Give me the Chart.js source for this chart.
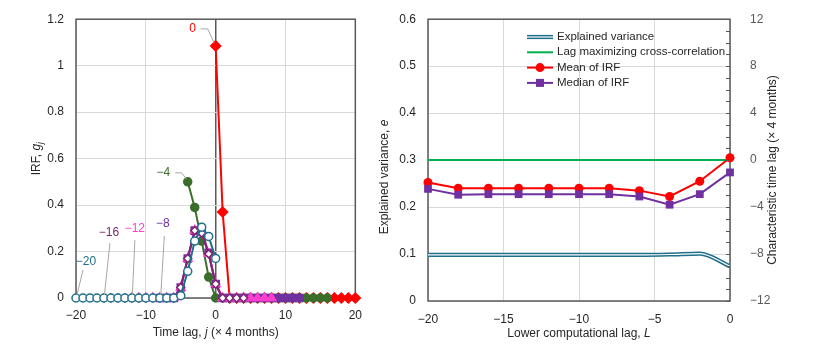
<!DOCTYPE html>
<html>
<head>
<meta charset="utf-8">
<script src="https://cdn.jsdelivr.net/npm/chart.js@4.4.1/dist/chart.umd.min.js"></script>
<style>
html, body { margin: 0; padding: 0; background: #fff; }
#wrap { position: relative; width: 828px; height: 359px; }
#left { position: absolute; left: 0; top: 0; }
#right { position: absolute; left: 372px; top: 0; }
</style>
</head>
<body>
<div id="wrap">
	<canvas id="left" width="372" height="359"></canvas>
	<canvas id="right" width="456" height="359"></canvas>
</div>
<script>
// Left panel: impulse response functions, one per lower computational lag L
const irfLowerLags = [-20, -16, -12, -8, -4, 0];
const irfTags = ["−20", "−16", "−12", "−8", "−4", "0"];
const irfLm20 = [0, 0, 0, 0, 0, 0, 0, 0, 0, 0, 0, 0, 0, 0, 0, 0.01, 0.115, 0.245, 0.305, 0.265, 0.17];
const irfLm16 = [0, 0, 0, 0, 0, 0, 0, 0, 0, 0, 0, 0.045, 0.17, 0.29, 0.28, 0.19, 0.06, 0, 0, 0, 0];
const irfLm12 = [0, 0, 0, 0, 0, 0, 0, 0.045, 0.17, 0.29, 0.28, 0.19, 0.06, 0, 0, 0, 0, 0, 0, 0, 0];
const irfLm8 = [0, 0, 0, 0.045, 0.17, 0.29, 0.285, 0.195, 0.06, 0, 0, 0, 0, 0, 0, 0, 0, 0, 0, 0, 0];
const irfLm4 = [0.5, 0.39, 0.245, 0.09, 0, 0, 0, 0, 0, 0, 0, 0, 0, 0, 0, 0, 0, 0, 0, 0, 0];
const irfL0 = [1.085, 0.37, 0, 0, 0, 0, 0, 0, 0, 0, 0, 0, 0, 0, 0, 0, 0, 0, 0, 0, 0];
const irfTicksY = [0, 0.2, 0.4, 0.6, 0.8, 1, 1.2];
const irfTicksX = [-20, -10, 0, 10, 20];

// Right panel: results against the lower computational lag
const lowerLags = [-20, -18, -16, -14, -12, -10, -8, -6, -4, -2, 0];
const explainedVar = [0.098, 0.098, 0.098, 0.098, 0.098, 0.098, 0.098, 0.098, 0.099, 0.101, 0.074];
const lagMaxXcorr = [0, 0, 0, 0, 0, 0, 0, 0, 0, 0, 0];
const meanIRF = [-1.9, -2.4, -2.4, -2.4, -2.4, -2.4, -2.4, -2.6, -3.1, -1.8, 0.2];
const medianIRF = [-2.45, -2.95, -2.9, -2.9, -2.9, -2.9, -2.9, -3.1, -3.8, -2.9, -1.05];
const rightNames = ["Explained variance", "Lag maximizing cross-correlation", "Mean of IRF", "Median of IRF"];

const FONT = "'Liberation Sans', Arial, sans-serif";
const TXT = "#262626";
const AXIS = "#595959";
const GRID = "#d9d9d9";

const minus = (v) => (v < 0 ? "−" + Math.abs(v) : String(v));

// draw text made of runs (normal / italic / subscript), centred on (cx, cy)
function drawRuns(ctx, runs, cx, cy, rotate) {
	ctx.save();
	ctx.translate(cx, cy);
	if (rotate) ctx.rotate(-Math.PI / 2);
	ctx.fillStyle = TXT;
	ctx.textBaseline = "middle";
	ctx.textAlign = "left";
	const fontOf = (r) => (r.italic ? "italic " : "") + (r.sub ? "9px " : "12px ") + FONT;
	let total = 0;
	runs.forEach((r) => {
		ctx.font = fontOf(r);
		total += ctx.measureText(r.t).width;
	});
	let x = -total / 2;
	runs.forEach((r) => {
		ctx.font = fontOf(r);
		ctx.fillText(r.t, x, r.sub ? 3 : 0);
		x += ctx.measureText(r.t).width;
	});
	ctx.restore();
}

const boxPlugin = {
	id: "box",
	beforeDatasetsDraw(chart) {
		const a = chart.chartArea;
		const ctx = chart.ctx;
		ctx.save();
		ctx.strokeStyle = AXIS;
		ctx.lineWidth = 1.5;
		ctx.strokeRect(a.left, a.top, a.right - a.left, a.bottom - a.top);
		ctx.restore();
	},
};

// ---------- left chart ----------
const irfSeries = [irfLm20, irfLm16, irfLm12, irfLm8, irfLm4, irfL0];
const irfStyles = [
	{ color: "#1F6E8C", shape: "circle", fill: "#ffffff", r: 4 },
	{ color: "#7B2470", shape: "rectRot", fill: "#ffffff", r: 4 },
	{ color: "#FF3FCF", shape: "triangle", fill: "#FF3FCF", r: 5 },
	{ color: "#7030A0", shape: "rect", fill: "#7030A0", r: 5 },
	{ color: "#3B6E2B", shape: "circle", fill: "#3B6E2B", r: 4 },
	{ color: "#FF0000", shape: "rectRot", fill: "#FF0000", r: 5 },
];

const irfDatasets = irfSeries.map((vals, k) => ({
	label: "L = " + irfTags[k],
	data: vals.map((v, i) => ({ x: irfLowerLags[k] + i, y: v })),
	borderColor: irfStyles[k].color,
	backgroundColor: irfStyles[k].fill,
	pointBorderColor: irfStyles[k].color,
	pointBackgroundColor: irfStyles[k].fill,
	pointStyle: irfStyles[k].shape,
	pointRadius: irfStyles[k].r,
	pointBorderWidth: 1.5,
	borderWidth: 2,
	tension: 0,
	clip: false,
}));

// tag offsets from the first point of each series, plus leader line
const tagLayout = [
	{ dx: 10, dy: -36, lead: [[7, -28], [1, -3]] },
	{ dx: 5, dy: -65, lead: [[6, -55], [0.5, -3]] },
	{ dx: 3, dy: -69, lead: [[3, -58], [0.5, -3]] },
	{ dx: 3, dy: -74, lead: [[4.5, -62], [1, -3]] },
	{ dx: -24.5, dy: -9, lead: [[-12.5, -9], [-6, -9], [-1.5, -3]] },
	{ dx: -23, dy: -17, lead: [[-15, -17], [-8, -17], [-1.5, -3]] },
];

const tagPlugin = {
	id: "tags",
	afterDatasetsDraw(chart) {
		const ctx = chart.ctx;
		const xs = chart.scales.x;
		const ys = chart.scales.y;
		ctx.save();
		irfLowerLags.forEach((L, k) => {
			const px = xs.getPixelForValue(L);
			const py = ys.getPixelForValue(irfSeries[k][0]);
			const t = tagLayout[k];
			ctx.strokeStyle = "#a6a6a6";
			ctx.lineWidth = 1;
			ctx.beginPath();
			t.lead.forEach((p, i) => {
				if (i === 0) ctx.moveTo(px + p[0], py + p[1]);
				else ctx.lineTo(px + p[0], py + p[1]);
			});
			ctx.stroke();
			ctx.fillStyle = irfStyles[k].color;
			ctx.font = "12px " + FONT;
			ctx.textAlign = "center";
			ctx.textBaseline = "middle";
			ctx.fillText(irfTags[k], px + t.dx, py + t.dy);
		});
		ctx.restore();
		const a = chart.chartArea;
		drawRuns(ctx, [{ t: "IRF, " }, { t: "g", italic: true }, { t: "j", italic: true, sub: true }], 37, (a.top + a.bottom) / 2, true);
		drawRuns(ctx, [{ t: "Time lag, " }, { t: "j", italic: true }, { t: " (× 4 months)" }], (a.left + a.right) / 2, 333, false);
	},
};

new Chart(document.getElementById("left"), {
	type: "line",
	data: { datasets: irfDatasets },
	options: {
		responsive: false,
		animation: false,
		layout: { padding: { left: 36, right: 14, top: 18, bottom: 21 } },
		plugins: { legend: { display: false }, tooltip: { enabled: false } },
		scales: {
			x: {
				type: "linear",
				min: -20,
				max: 20,
				afterFit: (s) => { s.height = 40; },
				afterBuildTicks: (s) => { s.ticks = irfTicksX.map((v) => ({ value: v })); },
				border: { display: false },
				grid: {
					drawTicks: false,
					color: (c) => (c.tick && c.tick.value === 0 ? AXIS : GRID),
					lineWidth: (c) => (c.tick && c.tick.value === 0 ? 1.5 : 1),
				},
				ticks: { padding: 10, color: TXT, font: { family: FONT, size: 12 }, callback: (v) => minus(v) },
			},
			y: {
				min: 0,
				max: 1.2,
				afterFit: (s) => { s.width = 40; },
				afterBuildTicks: (s) => { s.ticks = irfTicksY.map((v) => ({ value: v })); },
				border: { display: false },
				grid: { drawTicks: false, color: GRID },
				ticks: { padding: 12, color: TXT, font: { family: FONT, size: 12 }, callback: (v) => String(v) },
			},
		},
	},
	plugins: [boxPlugin, tagPlugin],
});

// ---------- right chart ----------
const evColor = "#1F6E8C";
const greenColor = "#00B050";
const redColor = "#FF0000";
const purpleColor = "#7030A0";

const pts = (vals) => vals.map((v, i) => ({ x: lowerLags[i], y: v }));

const rightDatasets = [
	{
		label: rightNames[3], data: pts(medianIRF), yAxisID: "y2",
		borderColor: purpleColor, backgroundColor: purpleColor, borderWidth: 2,
		pointStyle: "rect", pointRadius: 5.5, pointBorderWidth: 0, clip: false,
	},
	{
		label: rightNames[2], data: pts(meanIRF), yAxisID: "y2",
		borderColor: redColor, backgroundColor: redColor, borderWidth: 2,
		pointStyle: "circle", pointRadius: 4.5, pointBorderWidth: 0, clip: false,
	},
	{
		label: rightNames[1], data: pts(lagMaxXcorr), yAxisID: "y2",
		borderColor: greenColor, borderWidth: 2, pointRadius: 0,
	},
	{
		label: rightNames[0] + " (inner)", data: pts(explainedVar), yAxisID: "y",
		borderColor: "#ffffff", borderWidth: 1.2, pointRadius: 0, cubicInterpolationMode: "monotone",
	},
	{
		label: rightNames[0], data: pts(explainedVar), yAxisID: "y",
		borderColor: evColor, borderWidth: 4.2, pointRadius: 0, cubicInterpolationMode: "monotone",
	},
];

const rightDecor = {
	id: "rightDecor",
	afterDraw(chart) {
		const ctx = chart.ctx;
		const a = chart.chartArea;
		const y2 = chart.scales.y2;
		// small inward tick marks on the secondary axis
		ctx.save();
		ctx.strokeStyle = AXIS;
		ctx.lineWidth = 1;
		for (let v = -12; v <= 12; v++) {
			const py = Math.round(y2.getPixelForValue(v)) + 0.5;
			ctx.beginPath();
			ctx.moveTo(a.right - 4, py);
			ctx.lineTo(a.right, py);
			ctx.stroke();
		}
		// legend
		const lx = 155, ly = 37, step = 15.3;
		ctx.font = "11.5px " + FONT;
		ctx.textBaseline = "middle";
		ctx.textAlign = "left";
		rightNames.forEach((name, i) => {
			const y = ly + i * step;
			if (i === 0) {
				ctx.strokeStyle = evColor; ctx.lineWidth = 4.2;
				ctx.beginPath(); ctx.moveTo(lx, y); ctx.lineTo(lx + 26, y); ctx.stroke();
				ctx.strokeStyle = "#ffffff"; ctx.lineWidth = 1.2;
				ctx.beginPath(); ctx.moveTo(lx, y); ctx.lineTo(lx + 26, y); ctx.stroke();
			} else {
				const c = [null, greenColor, redColor, purpleColor][i];
				ctx.strokeStyle = c; ctx.lineWidth = 2;
				ctx.beginPath(); ctx.moveTo(lx, y); ctx.lineTo(lx + 26, y); ctx.stroke();
				ctx.fillStyle = c;
				if (i === 2) { ctx.beginPath(); ctx.arc(lx + 13, y, 4.5, 0, Math.PI * 2); ctx.fill(); }
				if (i === 3) { ctx.fillRect(lx + 9, y - 4, 8, 8); }
			}
			ctx.fillStyle = TXT;
			ctx.fillText(name, lx + 30, y);
		});
		ctx.restore();
		drawRuns(ctx, [{ t: "Lower computational lag, " }, { t: "L", italic: true }], (a.left + a.right) / 2, 334, false);
		drawRuns(ctx, [{ t: "Explained variance, " }, { t: "e", italic: true }], 13, 177, true);
		drawRuns(ctx, [{ t: "Characteristic time lag (× 4 months)" }], 401, 170, true);
	},
};

new Chart(document.getElementById("right"), {
	type: "line",
	data: { datasets: rightDatasets },
	options: {
		responsive: false,
		animation: false,
		layout: { padding: { left: 16, right: 48, top: 19, bottom: 18 } },
		plugins: { legend: { display: false }, tooltip: { enabled: false } },
		scales: {
			x: {
				type: "linear",
				min: -20,
				max: 0,
				afterFit: (s) => { s.height = 40; },
				border: { display: false },
				grid: { drawTicks: false, color: GRID },
				ticks: { stepSize: 5, padding: 11, color: TXT, font: { family: FONT, size: 12 }, callback: (v) => minus(v) },
			},
			y: {
				position: "left",
				min: 0,
				max: 0.6,
				afterFit: (s) => { s.width = 40; },
				border: { display: false },
				grid: { drawTicks: false, color: GRID },
				ticks: { stepSize: 0.1, padding: 12, color: TXT, font: { family: FONT, size: 12 }, callback: (v) => (v === 0 ? "0" : v.toFixed(1)) },
			},
			y2: {
				position: "right",
				min: -12,
				max: 12,
				afterFit: (s) => { s.width = 50; },
				border: { display: false },
				grid: { display: false },
				ticks: { stepSize: 4, padding: 12, color: AXIS, font: { family: FONT, size: 12 }, callback: (v) => minus(v) },
			},
		},
	},
	plugins: [boxPlugin, rightDecor],
});
</script>
</body>
</html>
